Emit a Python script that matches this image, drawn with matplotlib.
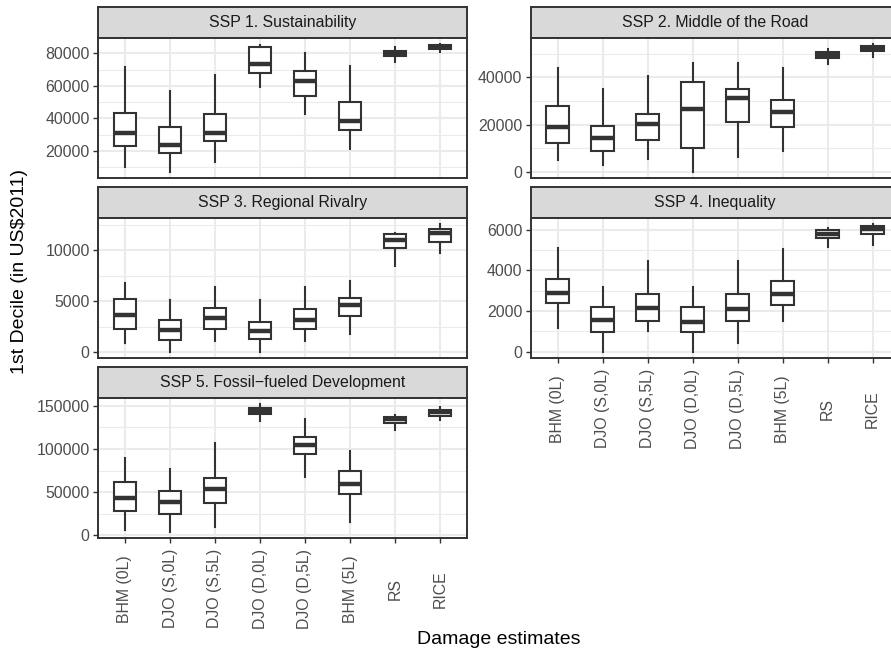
import matplotlib
matplotlib.use('Agg')
import matplotlib.pyplot as plt
from matplotlib.ticker import MultipleLocator

plt.rcParams['font.family'] = ['Liberation Sans', 'DejaVu Sans']

# Categories (damage estimates)
models = ['BHM (0L)', 'DJO (S,0L)', 'DJO (S,5L)', 'DJO (D,0L)', 'DJO (D,5L)', 'BHM (5L)', 'RS', 'RICE']

# Panel titles
titles = ['SSP 1. Sustainability', 'SSP 2. Middle of the Road', 'SSP 3. Regional Rivalry',
          'SSP 4. Inequality', 'SSP 5. Fossil\u2212fueled Development']

# Box statistics per SSP
ssp1_lo = [10300, 7200, 13400, 59600, 42500, 21400, 74600, 81000]
ssp1_q1 = [23100, 18400, 26200, 68000, 54000, 32800, 78600, 83000]
ssp1_med = [30900, 23700, 30900, 73200, 62900, 38600, 80400, 84000]
ssp1_q3 = [43300, 34400, 42700, 83900, 68900, 50300, 81700, 85000]
ssp1_hi = [71500, 56900, 67000, 85400, 80200, 72400, 84000, 85600]

ssp2_lo = [5100, 3000, 5500, 100, 6500, 9000, 45800, 48600]
ssp2_q1 = [12400, 9000, 13400, 10200, 21300, 19200, 48300, 51000]
ssp2_med = [19100, 14400, 20100, 26600, 31100, 25400, 49300, 52100]
ssp2_q3 = [27700, 19500, 24400, 38200, 35200, 30400, 50700, 53200]
ssp2_hi = [44200, 34900, 40700, 46100, 46100, 43900, 52200, 54000]

ssp3_lo = [890, 70, 1160, 70, 1160, 1790, 8470, 9760]
ssp3_q1 = [2250, 1260, 2320, 1290, 2320, 3540, 10260, 10860]
ssp3_med = [3640, 2180, 3410, 2090, 3180, 4600, 10990, 11750]
ssp3_q3 = [5200, 3180, 4340, 3010, 4240, 5360, 11620, 12110]
ssp3_hi = [6800, 5130, 6360, 5130, 6360, 6950, 11750, 12550]

ssp4_lo = [1150, 0, 1020, 0, 430, 1500, 5170, 5270]
ssp4_q1 = [2420, 970, 1530, 970, 1500, 2320, 5620, 5800]
ssp4_med = [2880, 1550, 2150, 1480, 2100, 2830, 5780, 6030]
ssp4_q3 = [3580, 2200, 2830, 2180, 2820, 3480, 5970, 6200]
ssp4_hi = [5130, 3200, 4480, 3200, 4480, 5050, 6100, 6270]

ssp5_lo = [5800, 4300, 9400, 132500, 67400, 15600, 122000, 133600]
ssp5_q1 = [28400, 24200, 37000, 140300, 94700, 48300, 130500, 138700]
ssp5_med = [42900, 39000, 53800, 143400, 104400, 59200, 134400, 142200]
ssp5_q3 = [61600, 51800, 66600, 146900, 113400, 74000, 137500, 145300]
ssp5_hi = [90000, 77100, 107100, 151600, 135200, 97800, 139500, 148400]

# y tick spacing per panel (major)
ystep = [20000, 20000, 5000, 2000, 50000]

panels = [
    (ssp1_lo, ssp1_q1, ssp1_med, ssp1_q3, ssp1_hi),
    (ssp2_lo, ssp2_q1, ssp2_med, ssp2_q3, ssp2_hi),
    (ssp3_lo, ssp3_q1, ssp3_med, ssp3_q3, ssp3_hi),
    (ssp4_lo, ssp4_q1, ssp4_med, ssp4_q3, ssp4_hi),
    (ssp5_lo, ssp5_q1, ssp5_med, ssp5_q3, ssp5_hi),
]

####################################
# Layout (pixels, from top left)
####################################
W, H = 891, 655
fig = plt.figure(figsize=(W / 100, H / 100), dpi=100)

col_x = [(98, 467), (530.5, 899.5)]
row_top = [7, 187, 367]
strip_h = 31
panel_h = 140

dark = '#333333'
grid = '#EBEBEB'

def px_rect(x0, x1, top, bottom):
    return [x0 / W, 1 - bottom / H, (x1 - x0) / W, (bottom - top) / H]

for i, (title, stats) in enumerate(zip(titles, panels)):
    row, col = divmod(i, 2)
    x0, x1 = col_x[col]
    top = row_top[row]

    # Strip
    sax = fig.add_axes(px_rect(x0, x1, top, top + strip_h))
    sax.set_facecolor('#D9D9D9')
    sax.set_xticks([])
    sax.set_yticks([])
    for s in sax.spines.values():
        s.set_color(dark)
        s.set_linewidth(1.4)
    sax.text(0.5, 0.5, title, ha='center', va='center', fontsize=11.4,
             color='#1A1A1A', transform=sax.transAxes)

    # Panel
    ax = fig.add_axes(px_rect(x0, x1, top + strip_h, top + strip_h + panel_h))
    lo, q1, med, q3, hi = stats
    bstats = []
    for j in range(len(models)):
        bstats.append({'whislo': lo[j], 'q1': q1[j], 'med': med[j], 'q3': q3[j],
                       'whishi': hi[j], 'fliers': []})
    ax.bxp(bstats, positions=range(1, len(models) + 1), widths=0.5, showcaps=False,
           showfliers=False, patch_artist=True,
           boxprops=dict(facecolor='white', edgecolor=dark, linewidth=1.5),
           whiskerprops=dict(color=dark, linewidth=1.5),
           medianprops=dict(color=dark, linewidth=3.2, solid_capstyle='butt'))

    # Scales like ggplot (5% expansion on y, 0.6 on discrete x)
    ymin, ymax = min(lo), max(hi)
    pad = (ymax - ymin) * 0.05
    ax.set_ylim(ymin - pad, ymax + pad)
    ax.set_xlim(0.4, len(models) + 0.6)
    ax.yaxis.set_major_locator(MultipleLocator(ystep[i]))
    ax.yaxis.set_minor_locator(MultipleLocator(ystep[i] / 2))
    ax.set_xticks(range(1, len(models) + 1))

    ax.set_axisbelow(True)
    ax.grid(True, which='major', color=grid, linewidth=1.5)
    ax.grid(True, which='minor', axis='y', color=grid, linewidth=0.75)
    for s in ax.spines.values():
        s.set_color(dark)
        s.set_linewidth(1.4)

    ax.tick_params(axis='y', which='major', length=3.5, width=1, color=dark,
                   labelsize=11.4, labelcolor='#4D4D4D', pad=2.5)
    ax.tick_params(axis='y', which='minor', length=0)
    ax.yaxis.set_major_formatter(matplotlib.ticker.FuncFormatter(lambda v, p: '%d' % v))

    # x labels only on the bottom panel of each column
    if i in (3, 4):
        ax.set_xticklabels(models)
        ax.tick_params(axis='x', length=3.5, width=1, color=dark, labelsize=11.4,
                       labelcolor='#4D4D4D', pad=33)
        for lab in ax.get_xticklabels():
            lab.set_rotation(90)
            lab.set_va('center')
            lab.set_ha('center')
    else:
        ax.tick_params(axis='x', length=0, labelbottom=False)

# Axis titles
fig.text(499 / W, 1 - 640 / H, 'Damage estimates', ha='center', va='center', fontsize=14)
fig.text(20 / W, 1 - 272 / H, '1st Decile (in US$2011)', ha='center', va='center',
         rotation=90, fontsize=14)

fig.savefig('out.png', dpi=100)
